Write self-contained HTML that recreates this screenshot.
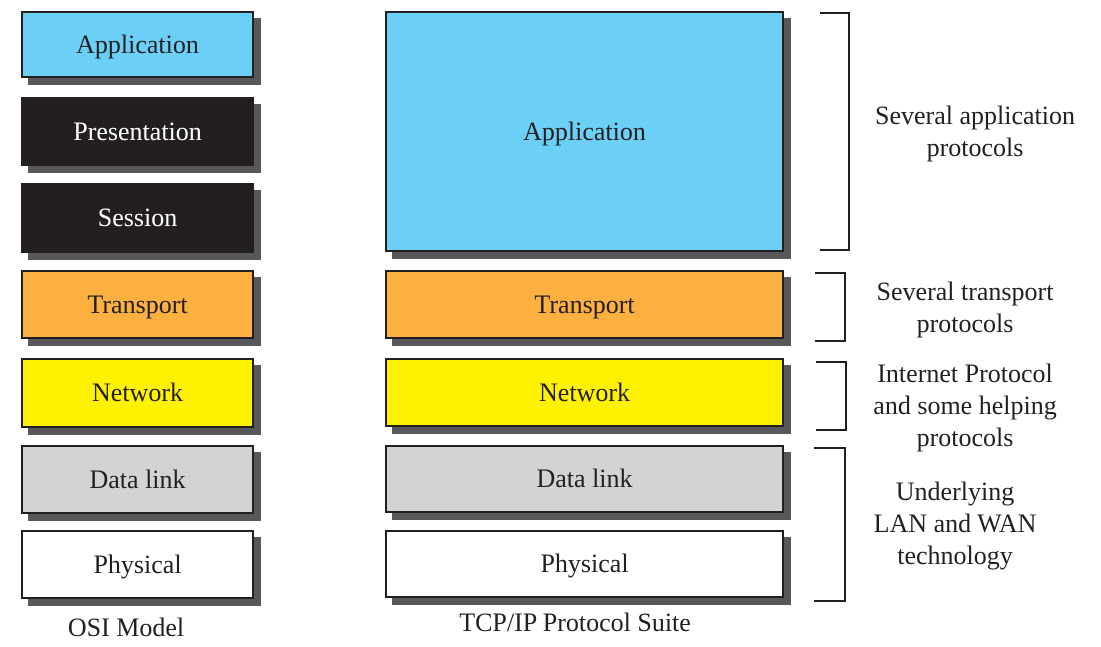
<!DOCTYPE html>
<html><head><style>
body{margin:0;width:1101px;height:647px;background:#fff;position:relative;font-family:"Liberation Serif",serif;overflow:hidden}
.b{position:absolute;box-sizing:border-box;border:2px solid #231f20;box-shadow:7px 7px 0 #58585a;display:flex;align-items:center;justify-content:center;font-size:26px;color:#231f20}
.k{position:absolute;border:2px solid #231f20;border-left:none;box-sizing:border-box}
.t{position:absolute;font-size:26px;color:#231f20;text-align:center;line-height:32px}
</style></head><body>
<div class="b" style="left:21px;top:11px;width:233px;height:67px;background:#6ccff6">Application</div>
<div class="b" style="left:21px;top:97px;width:233px;height:69px;background:#231f20;color:#fff">Presentation</div>
<div class="b" style="left:21px;top:183px;width:233px;height:70px;background:#231f20;color:#fff">Session</div>
<div class="b" style="left:21px;top:270px;width:233px;height:69px;background:#fbb040">Transport</div>
<div class="b" style="left:21px;top:358px;width:233px;height:70px;background:#fff200">Network</div>
<div class="b" style="left:21px;top:445px;width:233px;height:69px;background:#d1d3d4">Data link</div>
<div class="b" style="left:21px;top:530px;width:233px;height:69px;background:#fff">Physical</div>

<div class="b" style="left:385px;top:11px;width:399px;height:241px;background:#6ccff6">Application</div>
<div class="b" style="left:385px;top:270px;width:399px;height:69px;background:#fbb040">Transport</div>
<div class="b" style="left:385px;top:358px;width:399px;height:69px;background:#fff200">Network</div>
<div class="b" style="left:385px;top:445px;width:399px;height:68px;background:#d1d3d4">Data link</div>
<div class="b" style="left:385px;top:530px;width:399px;height:68px;background:#fff">Physical</div>

<div class="k" style="left:820px;top:12px;width:30px;height:239px"></div>
<div class="k" style="left:815px;top:272px;width:31px;height:70px"></div>
<div class="k" style="left:816px;top:361px;width:31px;height:70px"></div>
<div class="k" style="left:814px;top:447px;width:32px;height:155px"></div>

<div class="t" style="left:850px;top:100px;width:250px">Several application<br>protocols</div>
<div class="t" style="left:850px;top:276px;width:230px">Several transport<br>protocols</div>
<div class="t" style="left:850px;top:358px;width:230px">Internet Protocol<br>and some helping<br>protocols</div>
<div class="t" style="left:840px;top:476px;width:230px">Underlying<br>LAN and WAN<br>technology</div>

<div class="t" style="left:21px;top:612px;width:210px">OSI Model</div>
<div class="t" style="left:385px;top:607px;width:380px">TCP/IP Protocol Suite</div>
</body></html>
